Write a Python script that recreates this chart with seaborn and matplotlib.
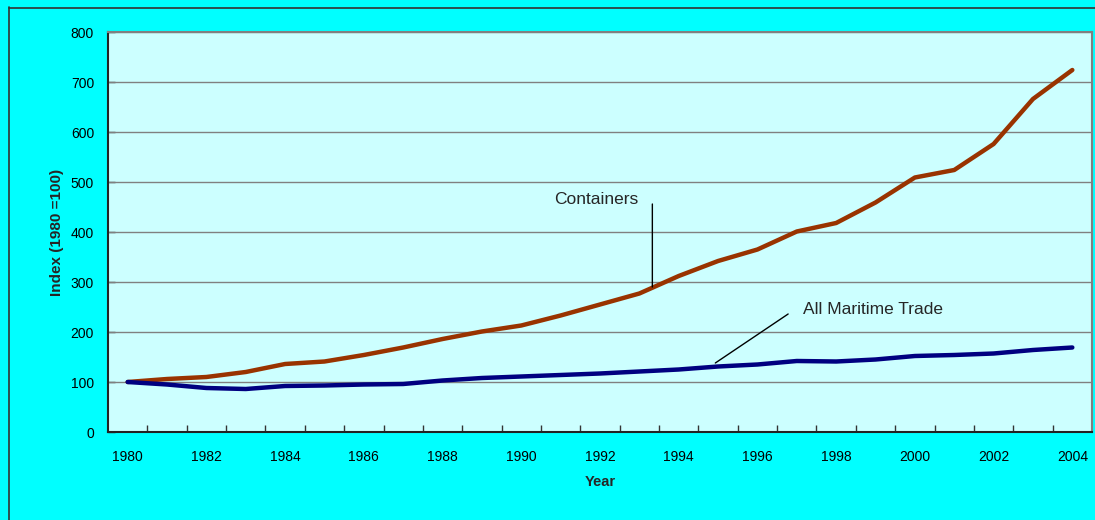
import matplotlib
matplotlib.use("Agg")
import matplotlib.pyplot as plt
from matplotlib.lines import Line2D
import seaborn as sns
import pandas as pd
import numpy as np

# Index series, 1980 = 100
years = list(range(1980, 2005))
containers = [100, 106, 110, 120, 136, 141, 154, 169, 186, 201, 213, 233,
              255, 277, 312, 342, 365, 401, 418, 459, 509, 524, 576, 666, 724]
maritime = [100, 95, 88, 86, 92, 93, 95, 96, 103, 108, 111, 114,
            117, 121, 125, 131, 135, 142, 141, 145, 152, 154, 157, 164, 169]
series_names = ["Containers", "All Maritime Trade"]
series_colors = ["#993300", "#000080"]
y_ticks = list(range(0, 801, 100))
x_label_years = list(range(1980, 2005, 2))

df = pd.DataFrame({
    "Year": years * 2,
    "Index": containers + maritime,
    "Series": [series_names[0]] * len(years) + [series_names[1]] * len(years),
})

sns.set_theme(style="white")
plt.rcParams["font.family"] = ["Liberation Sans", "DejaVu Sans"]

fig = plt.figure(figsize=(10.95, 5.2), dpi=100, facecolor="#00FFFF")
ax = fig.add_axes([108 / 1095, 88 / 520, 984 / 1095, 400 / 520])
ax.set_facecolor("#CCFFFF")

# horizontal gridlines
for v in y_ticks[1:]:
    ax.axhline(v, color="#808080", lw=1.0, zorder=1)

sns.lineplot(data=df, x="Year", y="Index", hue="Series",
             palette=dict(zip(series_names, series_colors)),
             linewidth=3.2, legend=False, ax=ax, zorder=3,
             solid_capstyle="round", solid_joinstyle="round")

ax.set_xlim(1979.5, 2004.5)
ax.set_ylim(0, 800)

# category labels centred, tick marks on category boundaries
ax.set_xticks(x_label_years)
ax.set_xticklabels([str(y) for y in x_label_years], fontsize=10, color="black")
ax.tick_params(axis="x", which="major", length=0, pad=13)
ax.set_xticks(np.arange(1980.5, 2004.5, 1.0), minor=True)
ax.tick_params(axis="x", which="minor", direction="in", length=5,
               width=1, color="#333333", bottom=True)

ax.set_yticks(y_ticks)
ax.set_yticklabels([str(v) for v in y_ticks], fontsize=10, color="black")
ax.tick_params(axis="y", direction="in", length=5, width=1,
               color="#333333", pad=10, left=True)

ax.set_xlabel("Year", fontsize=10.5, fontweight="bold", labelpad=8)
ax.set_ylabel("Index (1980 =100)", fontsize=11, fontweight="bold", labelpad=5)

for side in ["left", "bottom"]:
    ax.spines[side].set_color("#222222")
    ax.spines[side].set_linewidth(1.5)
for side in ["top", "right"]:
    ax.spines[side].set_color("#808080")
    ax.spines[side].set_linewidth(1.5)
    ax.spines[side].set_visible(True)

# series labels with leader lines
ax.text(1991.9, 464, series_names[0], fontsize=12.5, ha="center", va="center")
ax.annotate("", xy=(1993.33, 290), xytext=(1993.33, 456),
            arrowprops=dict(arrowstyle="-", color="black", lw=1.0,
                            shrinkA=0, shrinkB=0))
ax.text(1997.15, 246, series_names[1], fontsize=12.5, ha="left", va="center")
ax.annotate("", xy=(1994.93, 138), xytext=(1996.78, 236),
            arrowprops=dict(arrowstyle="-", color="black", lw=1.0,
                            shrinkA=0, shrinkB=0))

# outer frame of the chart area
fig.add_artist(Line2D([8.5 / 1095, 8.5 / 1095], [0, 1 - 7 / 520],
                      transform=fig.transFigure, color="#333333", lw=1.2))
fig.add_artist(Line2D([8.5 / 1095, 1], [1 - 7.5 / 520, 1 - 7.5 / 520],
                      transform=fig.transFigure, color="#333333", lw=1.2))

fig.savefig("out.png", dpi=100, facecolor=fig.get_facecolor())
